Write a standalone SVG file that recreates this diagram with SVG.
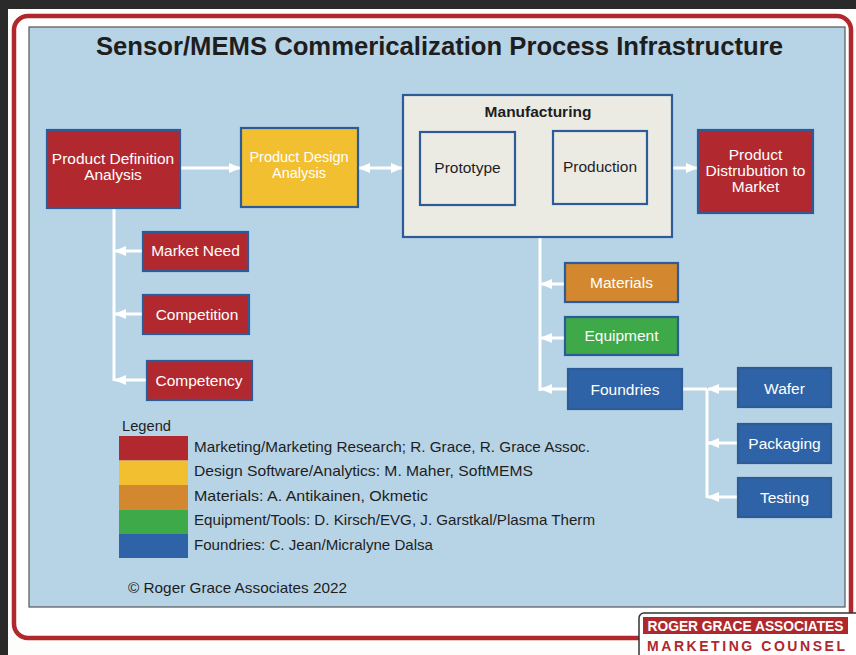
<svg xmlns="http://www.w3.org/2000/svg" width="856" height="655" viewBox="0 0 856 655">
<defs>
<marker id="ah" viewBox="0 0 12 10" refX="11" refY="5" markerWidth="12" markerHeight="10" markerUnits="userSpaceOnUse" orient="auto-start-reverse">
<path d="M0,0 L12,5 L0,10 Z" fill="#ffffff"/>
</marker>
<style>
text{font-family:"Liberation Sans",Arial,sans-serif}
.box{stroke:#2d5b97;stroke-width:2.2}
.red{fill:#b1292e}
.yel{fill:#f1bf2f}
.org{fill:#d3882f}
.grn{fill:#3da949}
.blu{fill:#2f63a7}
.gry{fill:#ebebe4}
.wt{fill:#ffffff;font-size:15.5px;text-anchor:middle}
.dk{fill:#1e1e1e;font-size:15.5px;text-anchor:middle}
.lg{fill:#1e1e1e;font-size:15px}
.ln{stroke:#ffffff;stroke-width:3;fill:none}
</style>
</defs>
<rect x="0" y="0" width="856" height="655" fill="#2a2a2a"/>
<rect x="8" y="9" width="848" height="646" fill="#fdfdfb"/>
<rect x="14" y="16" width="837" height="622" rx="14" fill="#ffffff" stroke="#b0282c" stroke-width="4.5"/>
<rect x="29" y="27" width="816" height="580" fill="#b7d3e6" stroke="#555555" stroke-width="1.2"/>
<text x="439.5" y="55" font-size="25" font-weight="bold" fill="#1e1e1e" text-anchor="middle" textLength="687" lengthAdjust="spacingAndGlyphs">Sensor/MEMS Commericalization Process Infrastructure</text>

<g id="connectors">
<line class="ln" x1="180" y1="168" x2="240" y2="168" marker-end="url(#ah)"/>
<line class="ln" x1="359" y1="168" x2="402" y2="168" marker-start="url(#ah)" marker-end="url(#ah)"/>
<line class="ln" x1="516" y1="167" x2="552" y2="167" marker-start="url(#ah)" marker-end="url(#ah)"/>
<line class="ln" x1="673" y1="168" x2="697" y2="168" marker-end="url(#ah)"/>
<line class="ln" x1="114" y1="208" x2="114" y2="381"/>
<line class="ln" x1="143" y1="251" x2="115" y2="251" marker-end="url(#ah)"/>
<line class="ln" x1="143" y1="314" x2="115" y2="314" marker-end="url(#ah)"/>
<line class="ln" x1="147" y1="380" x2="115" y2="380" marker-end="url(#ah)"/>
<line class="ln" x1="540" y1="237" x2="540" y2="391"/>
<line class="ln" x1="565" y1="284" x2="541" y2="284" marker-end="url(#ah)"/>
<line class="ln" x1="565" y1="338" x2="541" y2="338" marker-end="url(#ah)"/>
<line class="ln" x1="568" y1="389" x2="541" y2="389" marker-end="url(#ah)"/>
<line class="ln" x1="682" y1="389" x2="707" y2="389"/>
<line class="ln" x1="707" y1="389" x2="707" y2="498"/>
<line class="ln" x1="738" y1="389" x2="708" y2="389" marker-end="url(#ah)"/>
<line class="ln" x1="738" y1="443" x2="708" y2="443" marker-end="url(#ah)"/>
<line class="ln" x1="738" y1="497" x2="708" y2="497" marker-end="url(#ah)"/>
</g>

<g id="product-definition">
<rect class="box red" x="47" y="130" width="133" height="78"/>
<text class="wt" x="113" y="164">Product Definition</text>
<text class="wt" x="113" y="180">Analysis</text>
</g>
<g id="product-design">
<rect class="box yel" x="241" y="128" width="117" height="79"/>
<text class="wt" x="299" y="162" fill="#fdf4d6" style="font-size:14.5px">Product Design</text>
<text class="wt" x="299" y="178" fill="#fdf4d6" style="font-size:14.5px">Analysis</text>
</g>
<g id="manufacturing">
<rect class="box gry" x="403" y="95" width="269" height="142"/>
<text x="538" y="117" font-size="15.5" font-weight="bold" fill="#1e1e1e" text-anchor="middle">Manufacturing</text>
</g>
<g id="prototype">
<rect class="box gry" x="420" y="132" width="95" height="73" stroke-width="1.8"/>
<text class="dk" x="467.5" y="173">Prototype</text>
</g>
<g id="production">
<rect class="box gry" x="553" y="131" width="94" height="73" stroke-width="1.8"/>
<text class="dk" x="600" y="172">Production</text>
</g>
<g id="product-distribution">
<rect class="box red" x="698" y="130" width="115" height="83"/>
<text class="wt" x="755.5" y="160">Product</text>
<text class="wt" x="755.5" y="176">Distrubution to</text>
<text class="wt" x="755.5" y="192">Market</text>
</g>
<g id="market-need">
<rect class="box red" x="143" y="232" width="105" height="39"/>
<text class="wt" x="195.5" y="256">Market Need</text>
</g>
<g id="competition">
<rect class="box red" x="143" y="295" width="106" height="39"/>
<text class="wt" x="197" y="320">Competition</text>
</g>
<g id="competency">
<rect class="box red" x="147" y="361" width="105" height="39"/>
<text class="wt" x="199" y="386">Competency</text>
</g>
<g id="materials">
<rect class="box org" x="565" y="263" width="113" height="39"/>
<text class="wt" x="621.5" y="288">Materials</text>
</g>
<g id="equipment">
<rect class="box grn" x="565" y="317" width="113" height="38"/>
<text class="wt" x="621.5" y="341">Equipment</text>
</g>
<g id="foundries">
<rect class="box blu" x="568" y="369" width="114" height="40"/>
<text class="wt" x="625" y="395">Foundries</text>
</g>
<g id="wafer">
<rect class="box blu" x="738" y="368" width="93" height="39"/>
<text class="wt" x="784.5" y="394">Wafer</text>
</g>
<g id="packaging">
<rect class="box blu" x="738" y="424" width="93" height="39"/>
<text class="wt" x="784.5" y="449">Packaging</text>
</g>
<g id="testing">
<rect class="box blu" x="738" y="478" width="93" height="39"/>
<text class="wt" x="784.5" y="503">Testing</text>
</g>

<g id="legend">
<text class="lg" x="122" y="431" textLength="49" lengthAdjust="spacingAndGlyphs">Legend</text>
<rect x="119" y="436" width="69" height="24.5" fill="#b1292e"/>
<rect x="119" y="460.5" width="69" height="24.5" fill="#f1bf2f"/>
<rect x="119" y="485" width="69" height="24.5" fill="#d3882f"/>
<rect x="119" y="509.5" width="69" height="24.5" fill="#3da949"/>
<rect x="119" y="534" width="69" height="24" fill="#2f63a7"/>
<text class="lg" x="194" y="452" textLength="396" lengthAdjust="spacingAndGlyphs">Marketing/Marketing Research; R. Grace, R. Grace Assoc.</text>
<text class="lg" x="194" y="476" textLength="339" lengthAdjust="spacingAndGlyphs">Design Software/Analytics: M. Maher, SoftMEMS</text>
<text class="lg" x="194" y="501" textLength="234" lengthAdjust="spacingAndGlyphs">Materials: A. Antikainen, Okmetic</text>
<text class="lg" x="194" y="525" textLength="401" lengthAdjust="spacingAndGlyphs">Equipment/Tools: D. Kirsch/EVG, J. Garstkal/Plasma Therm</text>
<text class="lg" x="194" y="550" textLength="239" lengthAdjust="spacingAndGlyphs">Foundries: C. Jean/Micralyne Dalsa</text>
</g>
<text class="lg" x="128" y="593" textLength="219" lengthAdjust="spacingAndGlyphs">© Roger Grace Associates 2022</text>

<g id="logo">
<rect x="639" y="613" width="225" height="50" rx="5" fill="#ffffff" stroke="#333333" stroke-width="1.5"/>
<rect x="643" y="617" width="205" height="17" fill="#b0282c"/>
<text x="745.5" y="631" font-size="14" font-weight="bold" fill="#ffffff" text-anchor="middle" textLength="196" lengthAdjust="spacingAndGlyphs">ROGER GRACE ASSOCIATES</text>
<text x="746" y="651" font-size="14" font-weight="bold" fill="#b0282c" text-anchor="middle" textLength="198" lengthAdjust="spacing">MARKETING COUNSEL</text>
</g>
</svg>
